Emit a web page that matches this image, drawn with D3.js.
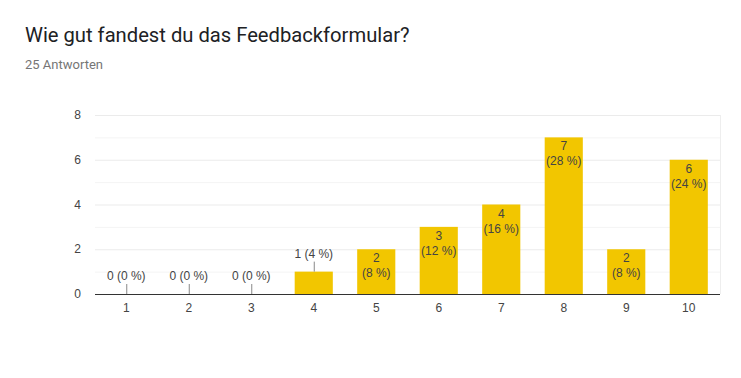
<!DOCTYPE html>
<html>
<head>
<meta charset="utf-8">
<script src="https://cdn.jsdelivr.net/npm/d3@7"></script>
<style>
  body { margin: 0; background: #fff; }
  svg { display: block; font-family: Arial, "Liberation Sans", sans-serif; }
  .head { font-family: Roboto, Arial, sans-serif; }
</style>
</head>
<body>
<script>
// answers to "Wie gut fandest du das Feedbackformular?"
var categories = ['1', '2', '3', '4', '5', '6', '7', '8', '9', '10'];
var counts = [0, 0, 0, 1, 2, 3, 4, 7, 2, 6];
var yTicks = [0, 2, 4, 6, 8];
var total = 25;

var width = 741, height = 378;
var margin = {left: 95, right: 21, top: 115, bottom: 84};

var svg = d3.select('body').append('svg')
  .attr('width', width)
  .attr('height', height);

svg.append('text')
  .attr('class', 'head')
  .attr('x', 25).attr('y', 42)
  .attr('font-size', 20.2)
  .attr('fill', '#202124')
  .text('Wie gut fandest du das Feedbackformular?');

svg.append('text')
  .attr('class', 'head')
  .attr('x', 25).attr('y', 69)
  .attr('font-size', 13)
  .attr('fill', '#757575')
  .text(total + ' Antworten');

var x = d3.scaleBand()
  .domain(categories)
  .range([margin.left, width - margin.right])
  .paddingInner(0.39)
  .paddingOuter(0.195);

var y = d3.scaleLinear()
  .domain([0, 8])
  .range([height - margin.bottom, margin.top]);

// gridlines (minor ones too)
svg.append('g').selectAll('line')
  .data(d3.range(1, 9))
  .enter().append('line')
  .attr('x1', margin.left).attr('x2', width - margin.right)
  .attr('y1', function(d) { return y(d) + 0.5; })
  .attr('y2', function(d) { return y(d) + 0.5; })
  .attr('stroke', function(d) { return d % 2 === 0 ? '#ebebeb' : '#f4f4f4'; });

// faint right border
svg.append('line')
  .attr('x1', width - margin.right + 0.5).attr('x2', width - margin.right + 0.5)
  .attr('y1', y(8)).attr('y2', y(0))
  .attr('stroke', '#eeeeee');

// y axis labels
svg.append('g').selectAll('text')
  .data(yTicks)
  .enter().append('text')
  .attr('x', 81)
  .attr('y', function(d) { return y(d) + 4; })
  .attr('text-anchor', 'end')
  .attr('font-size', 12)
  .attr('fill', '#444')
  .text(function(d) { return d; });

var data = categories.map(function(c, i) { return {cat: c, n: counts[i]}; });
var pct = function(n) { return Math.round(n / total * 100) + ' %'; };

svg.append('g').selectAll('rect')
  .data(data.filter(function(d) { return d.n > 0; }))
  .enter().append('rect')
  .attr('x', function(d) { return x(d.cat); })
  .attr('y', function(d) { return y(d.n); })
  .attr('width', x.bandwidth())
  .attr('height', function(d) { return y(0) - y(d.n); })
  .attr('fill', '#f2c600');

// x axis
svg.append('line')
  .attr('x1', margin.left).attr('x2', width - margin.right)
  .attr('y1', y(0) + 0.5).attr('y2', y(0) + 0.5)
  .attr('stroke', '#333');

svg.append('g').selectAll('text')
  .data(categories)
  .enter().append('text')
  .attr('x', function(d) { return x(d) + x.bandwidth() / 2; })
  .attr('y', y(0) + 18)
  .attr('text-anchor', 'middle')
  .attr('font-size', 12)
  .attr('fill', '#444')
  .text(function(d) { return d; });

// labels: inside for big bars, above with a stem for small ones
var labels = svg.append('g');
data.forEach(function(d) {
  var cx = x(d.cat) + x.bandwidth() / 2;
  if (d.n >= 2) {
    labels.append('text')
      .attr('x', cx).attr('y', y(d.n) + 13)
      .attr('text-anchor', 'middle').attr('font-size', 12).attr('fill', '#444')
      .text(d.n);
    labels.append('text')
      .attr('x', cx).attr('y', y(d.n) + 28)
      .attr('text-anchor', 'middle').attr('font-size', 12).attr('fill', '#444')
      .text('(' + pct(d.n) + ')');
  } else {
    var top = y(d.n);
    labels.append('line')
      .attr('x1', cx + 0.5).attr('x2', cx + 0.5)
      .attr('y1', top - 10).attr('y2', top)
      .attr('stroke', '#888');
    labels.append('text')
      .attr('x', cx).attr('y', top - 14)
      .attr('text-anchor', 'middle').attr('font-size', 12).attr('fill', '#444')
      .text(d.n + ' (' + pct(d.n) + ')');
  }
});
</script>
</body>
</html>
